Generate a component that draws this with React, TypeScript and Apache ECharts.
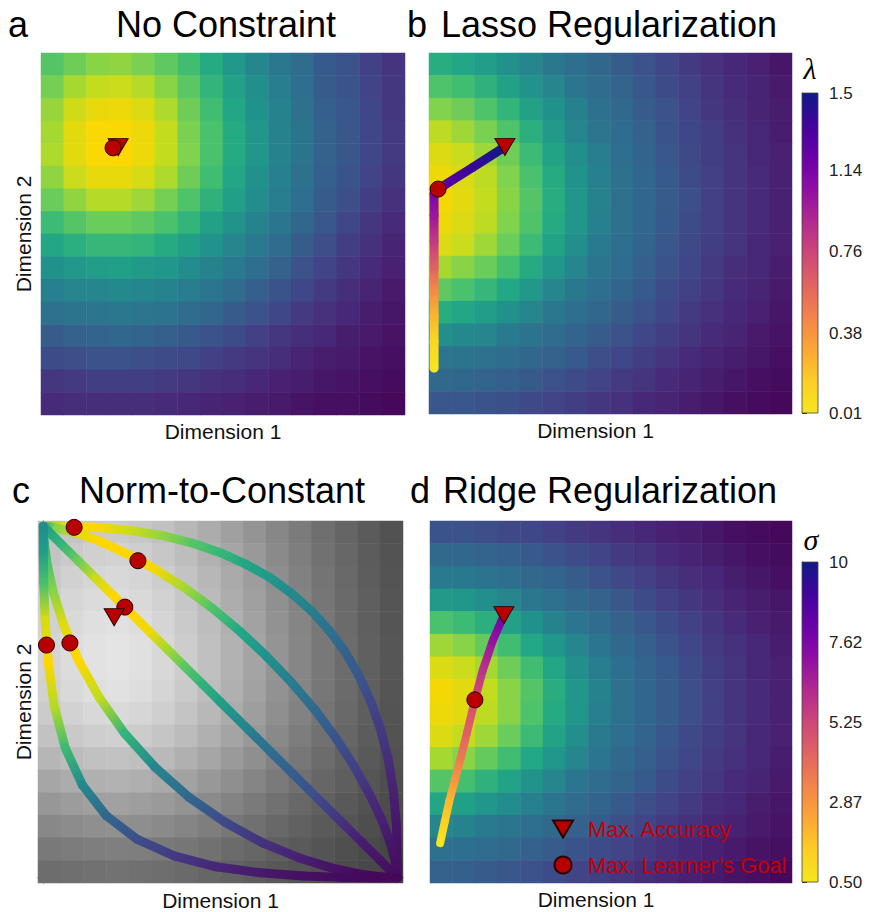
import React, { useEffect, useRef } from 'react';
import * as echarts from 'echarts';

// ---------- data ----------
const CELL_LABELS = ['0','1','2','3','4','5','6','7','8','9','10','11','12','13','14','15'];

// accuracy landscapes (0-100, rows from top to bottom, columns left to right)
const HEAT_A = [
  [73,78,82,83,80,75,69,61,53,46,40,35,28,25,19,15],
  [79,86,90,91,88,82,74,65,57,49,42,36,29,26,20,16],
  [84,92,96,97,94,87,78,69,59,50,44,37,30,27,21,16],
  [86,95,99,99,97,90,80,71,61,52,44,38,31,27,21,17],
  [87,95,99,100,97,90,81,71,61,52,44,38,31,27,21,17],
  [83,91,96,96,93,87,78,69,59,50,43,37,30,26,20,16],
  [77,83,88,88,85,79,72,64,56,48,42,36,29,24,18,14],
  [68,73,77,77,75,71,65,57,51,44,39,33,27,21,16,12],
  [59,63,66,66,65,61,56,51,45,41,35,29,24,18,14,10],
  [50,53,55,56,54,52,48,44,41,36,31,25,20,16,12,9],
  [43,45,46,47,46,44,42,39,35,30,26,21,17,13,10,7],
  [37,38,39,40,39,38,35,33,29,25,21,17,14,11,8,6],
  [29,31,32,33,32,30,28,26,23,19,16,13,11,8,7,5],
  [23,24,25,25,24,23,22,19,17,15,13,10,8,7,5,4],
  [16,17,18,18,18,17,16,14,13,11,9,8,6,5,4,3],
  [12,13,13,13,13,12,11,10,9,8,7,5,4,4,3,2],
];
const HEAT_B = [
  [62,59,55,50,45,40,36,33,29,25,21,17,14,11,9,6],
  [72,69,64,57,51,45,39,35,32,27,23,19,15,12,10,7],
  [81,78,72,65,57,50,43,37,34,29,25,20,16,13,10,8],
  [89,85,80,72,63,54,46,39,35,31,26,21,18,14,11,8],
  [94,91,85,78,68,58,49,42,36,32,27,22,18,15,11,9],
  [97,94,89,81,71,61,51,43,37,33,28,23,19,15,12,9],
  [98,95,90,82,73,62,52,44,37,33,29,24,19,15,12,9],
  [97,94,89,81,72,61,52,43,37,33,28,23,19,15,12,9],
  [94,91,85,77,68,58,49,41,36,32,27,22,18,15,11,9],
  [86,82,77,70,61,52,45,39,35,30,26,21,17,13,11,8],
  [75,71,66,60,53,46,40,36,32,28,23,19,16,12,10,7],
  [62,59,55,50,45,40,36,33,29,25,21,17,14,11,9,6],
  [49,47,45,41,38,35,32,29,25,21,18,15,12,10,7,5],
  [39,38,37,35,33,31,28,24,21,18,15,12,10,8,6,4],
  [34,33,32,30,28,25,23,20,17,15,12,10,8,6,4,3],
  [27,27,26,24,22,20,18,16,14,11,10,8,6,4,3,2],
];
// grey levels (0-255) of the norm-to-constant background
const HEAT_C = [
  [189,196,201,203,199,193,183,172,160,148,135,123,111,101,91,82],
  [195,202,208,210,206,199,189,177,165,153,138,126,113,103,92,83],
  [201,209,214,216,213,205,195,183,170,157,142,129,116,105,93,84],
  [206,214,219,221,217,210,199,187,173,160,144,131,118,106,95,85],
  [209,217,223,225,221,213,202,189,176,162,146,133,119,107,95,85],
  [212,220,226,228,224,216,205,192,178,164,148,134,120,108,96,86],
  [212,220,226,228,224,216,205,192,178,164,148,134,120,108,96,86],
  [209,217,223,225,221,213,202,189,176,162,146,133,119,107,95,85],
  [203,210,216,218,214,207,196,184,171,158,143,130,116,105,94,84],
  [194,201,206,208,204,197,188,176,164,152,137,125,113,102,92,83],
  [182,188,193,194,191,185,176,166,154,143,130,119,108,98,89,81],
  [166,172,176,178,175,169,162,152,143,133,122,112,102,94,85,78],
  [151,156,160,161,158,154,147,139,131,122,113,104,96,89,82,76],
  [136,140,143,144,142,138,133,126,119,112,104,97,90,84,78,73],
  [121,124,126,127,126,122,118,113,107,102,95,90,84,79,74,70],
  [109,111,113,114,112,110,106,102,98,93,88,84,79,75,72,68],
];
const HEAT_D = [
  [26,25,24,22,21,19,17,15,13,11,9,8,6,4,3,2],
  [34,33,32,30,28,25,23,20,17,15,12,10,8,6,4,3],
  [41,40,38,36,34,32,29,25,22,19,16,13,11,8,6,4],
  [54,52,49,45,40,37,34,31,27,23,19,16,13,10,8,6],
  [71,68,63,57,50,44,39,35,31,27,23,19,15,12,9,7],
  [85,82,76,69,60,52,45,39,34,30,26,21,17,14,11,8],
  [94,91,86,78,69,59,49,42,36,32,28,23,18,15,11,9],
  [98,95,90,82,73,62,52,44,37,33,29,24,19,15,12,9],
  [97,95,89,82,72,61,52,43,37,33,29,24,19,15,12,9],
  [94,90,85,77,68,58,49,41,36,32,27,22,18,15,11,9],
  [86,82,76,69,60,52,45,39,34,30,26,21,17,14,11,8],
  [73,70,64,58,51,45,39,35,32,28,23,19,16,12,10,7],
  [59,56,52,48,43,39,35,32,28,24,20,17,13,11,8,6],
  [46,44,41,39,36,34,31,28,24,20,17,14,11,9,7,5],
  [37,36,35,34,31,29,26,23,20,17,14,11,9,7,5,4],
  [31,30,29,27,25,23,20,18,16,13,11,9,7,5,4,2],
];

// regularisation paths: [dimension 1, dimension 2, lambda / sigma]
const PATH_B = [
  [0.014,0.127,0.01],[0.014,0.2,0.1],[0.014,0.27,0.25],[0.014,0.34,0.42],[0.014,0.41,0.62],
  [0.014,0.48,0.82],[0.014,0.55,1.0],[0.014,0.61,1.15],[0.025,0.623,1.22],[0.12,0.683,1.38],[0.209,0.74,1.5],
];
const PATH_D = [
  [0.028,0.11,0.5],[0.041,0.17,1.3],[0.053,0.225,2.0],[0.069,0.285,2.9],[0.086,0.35,3.7],
  [0.102,0.414,4.4],[0.124,0.506,5.0],[0.146,0.588,5.9],[0.174,0.671,7.0],[0.204,0.74,8.0],
];

// norm-to-constant curves: [dimension 1, dimension 2, accuracy 0-100]
const CURVE_P25 = [
  [0,1,80],[0.06,0.999,96],[0.142,0.997,100],[0.246,0.988,91],[0.339,0.973,83],[0.424,0.951,73],
  [0.502,0.924,66],[0.574,0.891,59],[0.641,0.853,53],[0.702,0.808,47],[0.758,0.758,42],[0.808,0.702,37],
  [0.853,0.641,31],[0.891,0.574,27],[0.924,0.502,21],[0.951,0.424,17],[0.973,0.339,13],[0.988,0.246,9],
  [0.997,0.142,6],[1,0,3],
];
const CURVE_P15 = [
  [0,1,62],[0.039,0.995,82],[0.097,0.98,95],[0.165,0.955,100],[0.239,0.92,100],[0.317,0.877,98],
  [0.397,0.826,86],[0.477,0.767,72],[0.555,0.701,60],[0.63,0.63,50],[0.701,0.555,42],[0.767,0.477,34],
  [0.826,0.397,26],[0.877,0.317,19],[0.92,0.239,13],[0.955,0.165,9],[0.98,0.097,6],[0.995,0.039,4],[1,0,3],
];
const CURVE_P10 = [
  [0,1,55],[0.05,0.95,65],[0.1,0.9,78],[0.15,0.85,92],[0.2,0.8,100],[0.25,0.75,100],[0.3,0.7,97],
  [0.35,0.65,86],[0.4,0.6,74],[0.45,0.55,64],[0.5,0.5,56],[0.55,0.45,48],[0.6,0.4,40],[0.65,0.35,35],
  [0.7,0.3,30],[0.75,0.25,25],[0.8,0.2,19],[0.85,0.15,13],[0.9,0.1,8],[0.95,0.05,5],[1,0,3],
];
const CURVE_P06 = [
  [0,1,55],[0.003,0.95,65],[0.011,0.891,72],[0.028,0.813,82],[0.057,0.72,95],[0.099,0.619,100],
  [0.157,0.514,90],[0.229,0.411,65],[0.315,0.315,46],[0.411,0.229,33],[0.514,0.157,22],[0.619,0.099,14],
  [0.72,0.057,9],[0.813,0.028,5],[0.891,0.011,3],[0.95,0.003,2],[1,0,2],
];
const CURVE_P04 = [
  [0,1,48],[0,0.981,50],[0,0.926,55],[0.001,0.841,70],[0.005,0.733,93],[0.014,0.612,100],
  [0.031,0.487,88],[0.062,0.369,68],[0.11,0.264,47],[0.177,0.177,33],[0.264,0.11,24],[0.369,0.062,17],
  [0.487,0.031,11],[0.612,0.014,7],[0.733,0.005,4],[0.841,0.001,3],[0.926,0,2],[1,0,2],
];

// optimum markers
const ACC_A = [0.212, 0.74];
const GOAL_A = [0.198, 0.738];
const ACC_B = [0.209, 0.74];
const GOAL_B = [0.025, 0.623];
const ACC_C = [0.2, 0.741];
const GOALS_C = [[0.087, 0.997], [0.267, 0.902], [0.23, 0.77], [0.009, 0.662], [0.075, 0.668]];
const ACC_D = [0.204, 0.74];
const GOAL_D = [0.124, 0.506];

// colour bars
const LAMBDA_RANGE = [0.01, 1.5];
const LAMBDA_TICKS = [0.01, 0.38, 0.76, 1.14, 1.5];
const LAMBDA_LABELS = ['0.01', '0.38', '0.76', '1.14', '1.5'];
const SIGMA_RANGE = [0.5, 10];
const SIGMA_TICKS = [0.5, 2.87, 5.25, 7.62, 10];
const SIGMA_LABELS = ['0.50', '2.87', '5.25', '7.62', '10'];
const C_TICKS = [0, 0.25, 0.5, 0.75, 1];

const SERIES_ACC = 'Max. Accuracy';
const SERIES_GOAL = 'Max. Learner\u2019s Goal';

// ---------- colours ----------
const VIRIDIS = ['#440154','#482475','#414487','#355f8d','#2a788e','#21918c','#22a884','#44bf70','#7ad151','#c4dc1e','#ffd700'];
const PLASMA = ['#f5e61f','#fcce25','#fca636','#f2844b','#e16462','#cc4778','#b12a90','#8f0da4','#6a00a8','#41049d','#101a86'];
const GREYS = ['#000000', '#ffffff'];
const MARK_FILL = '#b80000';
const MARK_EDGE = '#2a0000';
const FONT = '"Liberation Sans", Arial, Helvetica, sans-serif';

function hexRgb(h: string) {
  const n = parseInt(h.slice(1), 16);
  return [(n >> 16) & 255, (n >> 8) & 255, n & 255];
}
function ramp(stops: string[], t: number) {
  const tt = Math.max(0, Math.min(1, t));
  const s = tt * (stops.length - 1);
  const i = Math.min(Math.floor(s), stops.length - 2);
  const f = s - i;
  const a = hexRgb(stops[i]);
  const b = hexRgb(stops[i + 1]);
  const c = a.map((v, k) => Math.round(v + (b[k] - v) * f));
  return `rgb(${c[0]},${c[1]},${c[2]})`;
}
const viridisOf = (v: number) => ramp(VIRIDIS, v / 100);
const lambdaOf = (v: number) => ramp(PLASMA, (v - LAMBDA_RANGE[0]) / (LAMBDA_RANGE[1] - LAMBDA_RANGE[0]));
const sigmaOf = (v: number) => ramp(PLASMA, (v - SIGMA_RANGE[0]) / (SIGMA_RANGE[1] - SIGMA_RANGE[0]));

function toCells(rows: number[][]) {
  const out: number[][] = [];
  rows.forEach((row, r) => row.forEach((v, c) => out.push([c, r, v])));
  return out;
}

function pathSeries(data: number[][], axis: number, colorOf: (v: number) => string, width: number) {
  return {
    type: 'custom',
    xAxisIndex: axis,
    yAxisIndex: axis,
    data,
    dimensions: ['x', 'y', 'v'],
    encode: { x: 0, y: 1 },
    silent: true,
    z: 3,
    renderItem: (params: any, api: any) => {
      const i = params.dataIndex;
      if (i >= data.length - 1) return null;
      const a = data[i];
      const b = data[i + 1];
      const p0 = api.coord([a[0], a[1]]);
      const p1 = api.coord([b[0], b[1]]);
      return {
        type: 'line',
        shape: { x1: p0[0], y1: p0[1], x2: p1[0], y2: p1[1] },
        style: {
          stroke: new echarts.graphic.LinearGradient(p0[0], p0[1], p1[0] + 0.01, p1[1] + 0.01, [
            { offset: 0, color: colorOf(a[2]) },
            { offset: 1, color: colorOf(b[2]) },
          ], true),
          lineWidth: width,
          lineCap: 'round',
        },
      };
    },
  };
}

function markerSeries(kind: 'acc' | 'goal', data: number[][], axis: number, z: number) {
  const acc = kind === 'acc';
  return {
    type: 'scatter',
    name: acc ? SERIES_ACC : SERIES_GOAL,
    xAxisIndex: axis,
    yAxisIndex: axis,
    data,
    symbol: acc ? 'triangle' : 'circle',
    symbolRotate: acc ? 180 : 0,
    symbolSize: acc ? [20, 17] : 16,
    itemStyle: { color: MARK_FILL, borderColor: MARK_EDGE, borderWidth: 1, opacity: 1 },
    silent: true,
    z,
  };
}

function colorbarSeries(axis: number, range: number[]) {
  return {
    type: 'custom',
    xAxisIndex: axis,
    yAxisIndex: axis,
    data: [[0, range[0], range[1]]],
    silent: true,
    renderItem: (_p: any, api: any) => {
      const lo = api.coord([0, range[0]]);
      const hi = api.coord([1, range[1]]);
      return {
        type: 'rect',
        shape: { x: lo[0], y: hi[1], width: hi[0] - lo[0], height: lo[1] - hi[1] },
        style: {
          fill: new echarts.graphic.LinearGradient(0, 1, 0, 0,
            PLASMA.map((c, i) => ({ offset: i / (PLASMA.length - 1), color: c }))),
          stroke: '#444',
          lineWidth: 0.8,
        },
      };
    },
  };
}

const PANELS = [
  { left: 41, top: 53, width: 364, height: 362 },
  { left: 429, top: 53, width: 363, height: 361 },
  { left: 38, top: 521, width: 365, height: 362 },
  { left: 430, top: 521, width: 362, height: 362 },
];
const COLORBARS = [
  { left: 802, top: 93, width: 16, height: 320 },
  { left: 802, top: 562, width: 16, height: 320 },
];

const nameStyle = { fontSize: 21, color: '#111', fontFamily: FONT };

function buildOption() {
  const grid = [...PANELS, ...PANELS, ...COLORBARS];
  const xAxis: any[] = [];
  const yAxis: any[] = [];
  for (let i = 0; i < 4; i++) {
    xAxis.push({ type: 'category', gridIndex: i, data: CELL_LABELS, show: false });
    yAxis.push({ type: 'category', gridIndex: i, data: CELL_LABELS, show: false, inverse: true });
  }
  const hidden = { axisLine: { show: false }, axisTick: { show: false }, axisLabel: { show: false }, splitLine: { show: false } };
  // overlay a
  xAxis.push({ type: 'value', gridIndex: 4, min: 0, max: 1, ...hidden, name: 'Dimension 1', nameLocation: 'middle', nameGap: 6, nameTextStyle: nameStyle });
  yAxis.push({ type: 'value', gridIndex: 4, min: 0, max: 1, ...hidden, name: 'Dimension 2', nameLocation: 'middle', nameGap: 7, nameTextStyle: nameStyle });
  // overlay b
  xAxis.push({ type: 'value', gridIndex: 5, min: 0, max: 1, ...hidden, name: 'Dimension 1', nameLocation: 'middle', nameGap: 6, nameTextStyle: { ...nameStyle, padding: [0, 30, 0, 0] } });
  yAxis.push({ type: 'value', gridIndex: 5, min: 0, max: 1, ...hidden });
  // overlay c
  xAxis.push({
    type: 'value', gridIndex: 6, min: -0.015, max: 1.015,
    axisLine: { show: true, lineStyle: { color: '#333', width: 1 } },
    axisTick: { show: true, customValues: C_TICKS, length: 4, lineStyle: { color: '#333' } },
    axisLabel: { show: false }, splitLine: { show: false },
    name: 'Dimension 1', nameLocation: 'middle', nameGap: 7, nameTextStyle: nameStyle,
  });
  yAxis.push({
    type: 'value', gridIndex: 6, min: -0.015, max: 1.015,
    axisLine: { show: true, lineStyle: { color: '#333', width: 1 } },
    axisTick: { show: false }, axisLabel: { show: false }, splitLine: { show: false },
    name: 'Dimension 2', nameLocation: 'middle', nameGap: 4, nameTextStyle: nameStyle,
  });
  // overlay d
  xAxis.push({ type: 'value', gridIndex: 7, min: 0, max: 1, ...hidden, name: 'Dimension 1', nameLocation: 'middle', nameGap: 6, nameTextStyle: { ...nameStyle, padding: [0, 30, 0, 0] } });
  yAxis.push({ type: 'value', gridIndex: 7, min: 0, max: 1, ...hidden });
  // colour bars
  const cbAxis = (gi: number, range: number[], ticks: number[], labels: string[]) => ({
    type: 'value', gridIndex: gi, min: range[0], max: range[1], position: 'right',
    axisLine: { show: true, lineStyle: { color: '#333', width: 1 } },
    axisTick: { show: true, customValues: ticks, length: 5, lineStyle: { color: '#333' } },
    axisLabel: {
      show: true, customValues: ticks, margin: 11, fontSize: 17, color: '#222', fontFamily: FONT,
      formatter: (v: number) => {
        const k = ticks.findIndex((t) => Math.abs(t - v) < 1e-6);
        return k >= 0 ? labels[k] : '';
      },
    },
    splitLine: { show: false },
  });
  xAxis.push({ type: 'value', gridIndex: 8, min: 0, max: 1, show: false });
  xAxis.push({ type: 'value', gridIndex: 9, min: 0, max: 1, show: false });
  yAxis.push(cbAxis(8, LAMBDA_RANGE, LAMBDA_TICKS, LAMBDA_LABELS));
  yAxis.push(cbAxis(9, SIGMA_RANGE, SIGMA_TICKS, SIGMA_LABELS));

  const heat = (rows: number[][], i: number) => ({
    type: 'heatmap', xAxisIndex: i, yAxisIndex: i, data: toCells(rows), silent: true,
    emphasis: { disabled: true }, itemStyle: { borderWidth: 0 }, z: 1,
  });

  const series: any[] = [
    heat(HEAT_A, 0), heat(HEAT_B, 1), heat(HEAT_C, 2), heat(HEAT_D, 3),
    pathSeries(PATH_B, 5, lambdaOf, 9),
    pathSeries(PATH_D, 7, sigmaOf, 8),
    pathSeries(CURVE_P25, 6, viridisOf, 9),
    pathSeries(CURVE_P15, 6, viridisOf, 9),
    pathSeries(CURVE_P10, 6, viridisOf, 9),
    pathSeries(CURVE_P06, 6, viridisOf, 9),
    pathSeries(CURVE_P04, 6, viridisOf, 9),
    markerSeries('acc', [ACC_A], 4, 5),
    markerSeries('goal', [GOAL_A], 4, 6),
    markerSeries('goal', [GOAL_B], 5, 5),
    markerSeries('acc', [ACC_B], 5, 6),
    markerSeries('goal', GOALS_C, 6, 5),
    markerSeries('acc', [ACC_C], 6, 6),
    markerSeries('goal', [GOAL_D], 7, 5),
    markerSeries('acc', [ACC_D], 7, 6),
    colorbarSeries(8, LAMBDA_RANGE),
    colorbarSeries(9, SIGMA_RANGE),
  ];

  const title = (text: string, x: number, y: number) => ({
    type: 'text', x, y, silent: true,
    style: { text, fill: '#000', font: `36px ${FONT}`, align: 'center', verticalAlign: 'middle' },
  });
  const greek = (text: string, x: number, y: number) => ({
    type: 'text', x, y, silent: true,
    style: { text, fill: '#000', font: 'italic 30px "Liberation Serif", "DejaVu Serif", serif', align: 'center', verticalAlign: 'middle' },
  });

  return {
    animation: false,
    backgroundColor: '#ffffff',
    textStyle: { fontFamily: FONT },
    grid,
    xAxis,
    yAxis,
    visualMap: [
      { type: 'continuous', show: false, seriesIndex: [0, 1, 3], min: 0, max: 100, inRange: { color: VIRIDIS } },
      { type: 'continuous', show: false, seriesIndex: [2], min: 0, max: 255, inRange: { color: GREYS } },
    ],
    legend: {
      data: [
        { name: SERIES_ACC, icon: 'path://M0,0L20,0L10,17Z' },
        { name: SERIES_GOAL, icon: 'circle' },
      ],
      orient: 'vertical', left: 547, top: 813, itemWidth: 40, itemHeight: 17, itemGap: 14,
      selectedMode: false,
      textStyle: { color: '#c40000', fontSize: 22, fontFamily: FONT },
    },
    series,
    graphic: [
      title('a', 18, 24), title('No Constraint', 226, 24),
      title('b', 417, 24), title('Lasso Regularization', 609, 24),
      title('c', 21, 490), title('Norm-to-Constant', 222, 490),
      title('d', 420, 490), title('Ridge Regularization', 610, 490),
      greek('\u03bb', 810, 68),
      greek('\u03c3', 811, 539),
    ],
  };
}

export default function App() {
  const ref = useRef<HTMLDivElement>(null);
  useEffect(() => {
    if (!ref.current) return;
    const chart = echarts.init(ref.current, undefined, { renderer: 'svg' });
    chart.setOption(buildOption() as any);
    return () => chart.dispose();
  }, []);
  return <div ref={ref} style={{ position: 'absolute', left: 0, top: 0, width: 869, height: 912 }} />;
}
